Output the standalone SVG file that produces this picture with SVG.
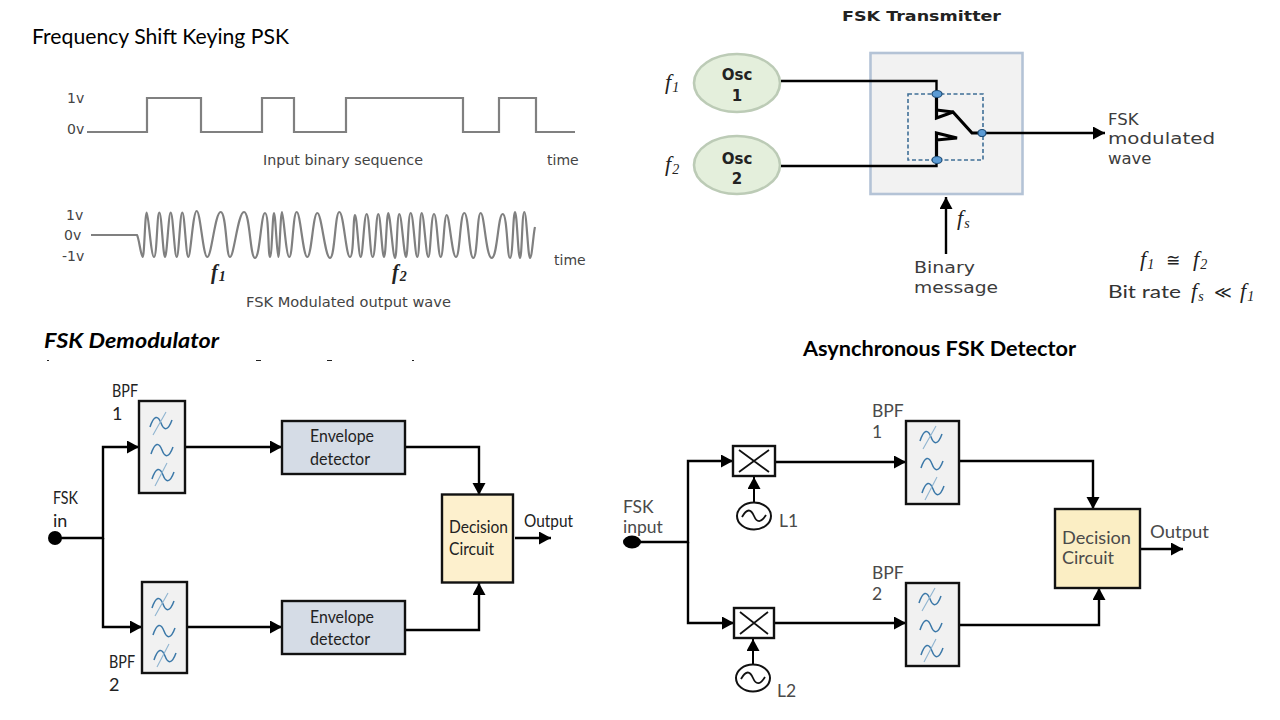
<svg xmlns="http://www.w3.org/2000/svg" xmlns:xlink="http://www.w3.org/1999/xlink" width="1280" height="720" viewBox="0 0 1280 720">
<style>
text{font-family:"Lato","Liberation Sans",sans-serif;fill:#1a1a1a}
.title{font-size:21px;fill:#000}
.b{font-weight:700}
.dv{font-family:"DejaVu Sans",sans-serif;font-size:14px;fill:#444}
.dv2{font-family:"DejaVu Sans",sans-serif;font-size:16.5px;fill:#3c3c3c}
.hd{font-family:"DejaVu Sans",sans-serif;font-weight:700;font-size:14.5px;fill:#222}
.os{font-family:"DejaVu Sans",sans-serif;font-weight:700;font-size:15px;fill:#222;text-anchor:middle}
.m{font-family:"Liberation Serif",serif;font-style:italic;font-size:22px;fill:#222}
.mb{font-family:"Liberation Serif",serif;font-style:italic;font-weight:700;font-size:20px;fill:#222}
.sub{font-size:14px}
.r{font-family:"DejaVu Sans",sans-serif;font-style:normal;font-size:17px}
.l{font-size:18px;fill:#222}
.g{font-size:17.500px;fill:#4a4a4a}
.wave{fill:none;stroke:#808080;stroke-width:2.2}
.w{fill:none;stroke:#000;stroke-width:2.4}
.wt{fill:none;stroke:#000;stroke-width:3.2}
.box{stroke:#111;stroke-width:2.4}
.flt{fill:#f1f1f1}
.env{fill:#d5dce6}
.dec{fill:#fdf0cd}
.til{fill:none;stroke:#3b78a8;stroke-width:1.5}
.str{fill:none;stroke:#8fb4d0;stroke-width:1.1}
.osc{fill:#e4efdc;stroke:#bccbb6;stroke-width:2.6}
.pt{fill:#5b9bd5;stroke:#1f4e79;stroke-width:1.2}
</style>
<defs>
<marker id="a" markerUnits="userSpaceOnUse" markerWidth="15" markerHeight="14" refX="12" refY="6.500" orient="auto"><path d="M0,0L12,6.500L0,13z" fill="#000"/></marker>
<path id="tildes" class="til" d="M-11,4C-7,-8-3,-8,0,0C3,8,7,8,11,-3"/>
<g id="filt">
<use xlink:href="#tildes" y="-27"/><path class="str" d="M-8,-15L5,-38"/>
<use xlink:href="#tildes" x="1"/>
<use xlink:href="#tildes" x="2" y="25"/><path class="str" d="M-6,36L6,13"/>
</g>
<g id="lo"><ellipse rx="17" ry="13.5" fill="#fff" stroke="#111" stroke-width="2"/><path d="M-12,1C-7,-8-3,-7,0,0C3,7,7,7,12,-1" fill="none" stroke="#111" stroke-width="1.8"/></g>
</defs>
<rect width="1280" height="720" fill="#fff"/>

<g id="panel-waveforms">
<text class="title" x="32" y="44" textLength="257" lengthAdjust="spacingAndGlyphs">Frequency Shift Keying PSK</text>
<path class="wave" d="M87,132H147V98H201V132H262V98H294V132H346V98H463V132H499V98H536V132H575"/>
<path class="wave" d="M91,235H137C139,238 141,257 142.7,257S145,212.5 146.7,212.5S151,257 154,257S157,212.5 159.3,212.5S163,257 165,257S168.5,212.5 170.7,212.5S174.5,257 176.7,257S180,212.5 182.3,212.5S186,257 188.3,257S193,211 196.7,211S203,257 207.3,257S215,212 220.7,212S226,257 230,257S238,212 244,212S250,258 255,258S261,213 265,213S268,257 270,257S272.5,213 274,213S277,257 278.3,257S280.5,212 282,212S286,257 289.3,257S293,212 296.7,212S303,257 307.3,257S313,213 317.3,213S325,258 330,258S335,212 339.3,212S346,257 350,257S353,215 355,215S358.5,257 360.7,257S364,214 366.7,214S370,257 372.7,257S376,214 378.3,214S382,257 384,257S386.5,213 388.3,213S393,258 395,258S397,214 399.3,214S404,257 406,257S408,213 410.7,213S415,257 417.3,257S419.5,213 421.7,213S426,257 428.3,257S431,214 434,214S438,257 440.7,257S444,215 446.7,215S452,257 456,257S460,213 464.3,213S469,258 473.3,258S477,213 480.7,213S486,258 491.7,258S498,214 502.7,214S507,258 510,258S513,212 515,212S518,258 520,258S522,212 524.3,212S528,258 530,258S533.5,232 535,227"/>
<text class="dv" x="67" y="103">1v</text>
<text class="dv" x="67" y="134">0v</text>
<text class="dv" x="263" y="165" textLength="160" lengthAdjust="spacingAndGlyphs">Input binary sequence</text>
<text class="dv" x="547" y="165">time</text>
<text class="dv" x="66" y="220">1v</text>
<text class="dv" x="64" y="240">0v</text>
<text class="dv" x="62" y="261">-1v</text>
<text class="dv" x="554" y="265">time</text>
<text class="mb" x="211" y="279">f<tspan class="sub" dy="2" dx="1">1</tspan></text>
<text class="mb" x="392" y="279">f<tspan class="sub" dy="2" dx="1">2</tspan></text>
<text class="dv" x="246" y="307" textLength="205" lengthAdjust="spacingAndGlyphs">FSK Modulated output wave</text>
</g>

<g id="fsk-transmitter">
<text class="hd" x="842" y="21" textLength="159" lengthAdjust="spacingAndGlyphs">FSK Transmitter</text>
<g id="tx-box"><rect x="870.500" y="53" width="152" height="141" fill="#f2f2f2" stroke="#b4c3d6" stroke-width="2.6"/></g>
<g id="osc1"><ellipse class="osc" cx="737" cy="83" rx="43" ry="29"/><text class="os" x="737" y="80">Osc</text><text class="os" x="737" y="101">1</text></g>
<g id="osc2"><ellipse class="osc" cx="737" cy="165" rx="43" ry="29"/><text class="os" x="737" y="164">Osc</text><text class="os" x="737" y="184">2</text></g>
<rect x="908" y="94" width="75" height="66" fill="none" stroke="#3f6f97" stroke-width="1.6" stroke-dasharray="4 2.500"/>
<g id="tx-connectors">
<path class="w" d="M781,81H936.500V94"/>
<path class="wt" d="M936.500,94V118L953,112L972,133H982"/>
<path class="wt" d="M936.500,110L953,112"/>
<path class="w" d="M781,166H936.500V160"/>
<path class="wt" d="M936.500,160V133L957,138L936.500,140"/>
<path class="w" d="M982,133H1105" marker-end="url(#a)"/>
<path class="w" d="M946,254V197" marker-end="url(#a)"/>
</g>
<ellipse class="pt" cx="937" cy="94" rx="5" ry="3.500"/>
<ellipse class="pt" cx="937" cy="160" rx="5" ry="3.500"/>
<ellipse class="pt" cx="982" cy="133" rx="4" ry="3.500"/>
<text class="m" x="665" y="89">f<tspan class="sub" dy="3" dx="1">1</tspan></text>
<text class="m" x="665" y="171">f<tspan class="sub" dy="3" dx="1">2</tspan></text>
<text class="m" x="957" y="225">f<tspan class="sub" dy="3" dx="1">s</tspan></text>
<text class="dv2" x="1108" y="125">FSK</text>
<text class="dv2" x="1108" y="144" textLength="107" lengthAdjust="spacingAndGlyphs">modulated</text>
<text class="dv2" x="1108" y="164">wave</text>
<text class="dv2" x="914" y="273" textLength="61" lengthAdjust="spacingAndGlyphs">Binary</text>
<text class="dv2" x="914" y="293" textLength="84" lengthAdjust="spacingAndGlyphs">message</text>
<text class="m" x="1140" y="266">f<tspan class="sub" dy="3" dx="1">1</tspan><tspan class="r" x="1166" dy="-3">≅</tspan><tspan x="1193">f</tspan><tspan class="sub" dy="3" dx="1">2</tspan></text>
<text class="g" x="1108" y="298" style="fill:#333" textLength="73" lengthAdjust="spacingAndGlyphs">Bit rate</text>
<text class="m" x="1191" y="298">f<tspan class="sub" dy="3" dx="1">s</tspan><tspan class="r" x="1214" dy="-3">≪</tspan><tspan x="1240">f</tspan><tspan class="sub" dy="3" dx="1">1</tspan></text>
</g>

<g id="fsk-demodulator">
<text class="title b" x="44" y="348" textLength="175" lengthAdjust="spacingAndGlyphs" style="font-style:italic">FSK Demodulator</text>
<path d="M47,360.500h2M256,360.500h5M327,360.500h5M412,360.500h2" stroke="#222" stroke-width="1"/>
<g id="d-connectors">
<path class="w" d="M55,538H103V447H139" marker-end="url(#a)"/>
<path class="w" d="M103,538V627H142" marker-end="url(#a)"/>
<path class="w" d="M185,447H282" marker-end="url(#a)"/>
<path class="w" d="M187,627H282" marker-end="url(#a)"/>
<path class="w" d="M405,447H479V495" marker-end="url(#a)"/>
<path class="w" d="M405,630H479V583" marker-end="url(#a)"/>
<path class="w" d="M515,538H551" marker-end="url(#a)"/>
</g>
<g id="d-in"><circle cx="55" cy="538" r="7" fill="#000"/><text class="l" x="53" y="504" textLength="25" lengthAdjust="spacingAndGlyphs">FSK</text><text class="l" x="53" y="527">in</text></g>
<g id="d-bpf1"><rect class="box flt" x="139" y="401" width="46" height="92"/><use xlink:href="#filt" x="161" y="450"/><text class="l" x="112" y="397" textLength="26" lengthAdjust="spacingAndGlyphs">BPF</text><text class="l" x="112" y="420">1</text></g>
<g id="d-bpf2"><rect class="box flt" x="142" y="582" width="45" height="91"/><use xlink:href="#filt" x="163" y="631"/><text class="l" x="109" y="668" textLength="26" lengthAdjust="spacingAndGlyphs">BPF</text><text class="l" x="109" y="691">2</text></g>
<g id="d-env1"><rect class="box env" x="282" y="421" width="123" height="53"/><text class="l" x="310" y="442" textLength="64" lengthAdjust="spacingAndGlyphs">Envelope</text><text class="l" x="310" y="465" textLength="60" lengthAdjust="spacingAndGlyphs">detector</text></g>
<g id="d-env2"><rect class="box env" x="282" y="601" width="123" height="53"/><text class="l" x="310" y="623" textLength="64" lengthAdjust="spacingAndGlyphs">Envelope</text><text class="l" x="310" y="645" textLength="60" lengthAdjust="spacingAndGlyphs">detector</text></g>
<g id="d-dec"><rect class="box dec" x="442" y="494.500" width="71" height="88"/><text class="l" x="449" y="533" textLength="59" lengthAdjust="spacingAndGlyphs">Decision</text><text class="l" x="449" y="555" textLength="45" lengthAdjust="spacingAndGlyphs">Circuit</text></g>
<text class="l" x="524" y="527" textLength="49" lengthAdjust="spacingAndGlyphs">Output</text>
</g>

<g id="async-detector">
<text class="title b" x="803" y="356" textLength="273" lengthAdjust="spacingAndGlyphs">Asynchronous FSK Detector</text>
<g id="a-connectors">
<path class="w" d="M632,542H688V461H733" marker-end="url(#a)"/>
<path class="w" d="M688,542V623H734" marker-end="url(#a)"/>
<path class="w" d="M775,462H906" marker-end="url(#a)"/>
<path class="w" d="M774,623H906" marker-end="url(#a)"/>
<path class="w" d="M959,461H1093V509" marker-end="url(#a)"/>
<path class="w" d="M959,625H1099V588" marker-end="url(#a)"/>
<path class="w" d="M1140,549H1183" marker-end="url(#a)"/>
<path class="w" style="stroke-width:2" d="M754,503V477" marker-end="url(#a)"/>
<path class="w" style="stroke-width:2" d="M753,665V639" marker-end="url(#a)"/>
</g>
<g id="a-in"><ellipse cx="632" cy="542" rx="9" ry="6.500" fill="#000"/><text class="g" x="623" y="513">FSK</text><text class="g" x="623" y="533">input</text></g>
<g id="a-mix1"><rect class="box" fill="#fff" x="733" y="446" width="42" height="30"/><path d="M739,450L769,472M769,450L739,472" stroke="#111" stroke-width="1.8"/></g>
<g id="a-mix2"><rect class="box" fill="#fff" x="734" y="608" width="40" height="30"/><path d="M740,612L768,634M768,612L740,634" stroke="#111" stroke-width="1.8"/></g>
<g id="a-l1"><use xlink:href="#lo" x="754" y="516"/><text class="g" x="779" y="527">L1</text></g>
<g id="a-l2"><use xlink:href="#lo" x="753" y="678"/><text class="g" x="777" y="697">L2</text></g>
<g id="a-bpf1"><rect class="box flt" x="906" y="421" width="53" height="83"/><use xlink:href="#filt" x="931" y="464"/><text class="g" x="872" y="417">BPF</text><text class="g" x="872" y="438">1</text></g>
<g id="a-bpf2"><rect class="box flt" x="906" y="583" width="53" height="83"/><use xlink:href="#filt" x="930" y="626"/><text class="g" x="872" y="579">BPF</text><text class="g" x="872" y="600">2</text></g>
<g id="a-dec"><rect class="box dec" style="fill:#fbeec4" x="1055" y="509" width="85" height="79"/><text class="g" x="1062" y="544" textLength="69" lengthAdjust="spacingAndGlyphs">Decision</text><text class="g" x="1062" y="564" textLength="52" lengthAdjust="spacingAndGlyphs">Circuit</text></g>
<text class="g" x="1150" y="538" textLength="59" lengthAdjust="spacingAndGlyphs">Output</text>
</g>
</svg>
